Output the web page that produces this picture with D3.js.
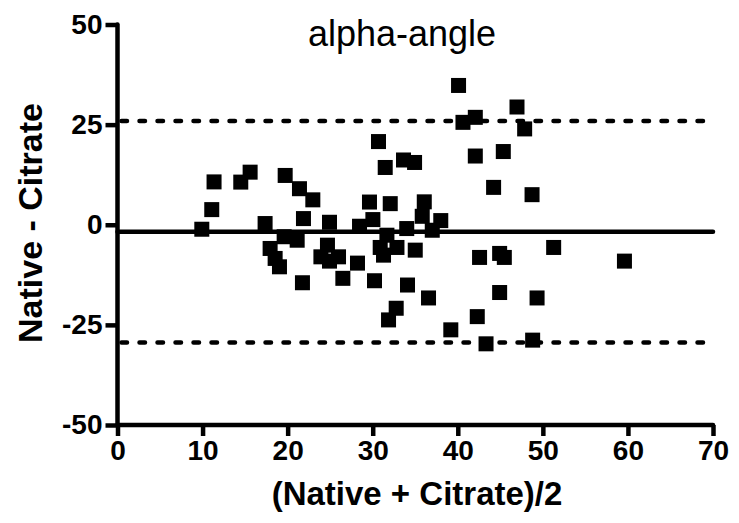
<!DOCTYPE html>
<html><head><meta charset="utf-8">
<script src="https://cdn.jsdelivr.net/npm/d3@7"></script>
<style>body{margin:0;background:#fff}svg{display:block}</style>
</head><body>
<script>
const meanX = [9.91,11.08,11.35,14.49,15.59,17.35,19.71,21.39,22.96,21.86,19.59,21.12,17.94,18.53,19.04,21.74,23.91,24.68,25.98,24.92,24.92,28.45,30.02,29.62,32.06,28.21,26.49,30.21,31.67,30.88,32.85,31.27,35.0,34.0,37.0,35.82,36.06,38.0,30.68,31.47,33.62,34.92,34.09,36.56,32.76,31.86,39.18,40.09,42.06,40.61,42.06,44.21,42.56,42.29,43.32,46.96,47.86,45.35,48.73,44.92,45.47,51.27,44.92,49.32,48.80,59.59];
const diffY = [-1.12,3.78,10.70,10.65,13.13,0.30,12.31,9.00,6.22,1.54,-2.99,-3.86,-5.92,-8.41,-10.50,-14.48,-8.01,-5.10,-8.01,-9.08,0.62,-0.37,1.29,5.67,5.27,-9.58,-13.38,-13.98,-2.61,-5.67,-5.67,-7.59,-6.34,-0.95,-1.37,2.11,5.72,1.04,20.77,14.30,16.17,15.55,-15.05,-18.28,-20.85,-23.76,-26.24,34.78,26.82,25.57,17.16,9.33,-8.16,-22.94,-29.73,29.40,23.93,18.28,7.51,-7.16,-8.16,-5.67,-16.92,-18.28,-28.81,-9.08];
const bias = -1.75;
const loaUpper = 25.9;
const loaLower = -29.4;
const xTicks = [0,10,20,30,40,50,60,70];
const yTicks = [-50,-25,0,25,50];
const title = "alpha-angle";
const xLabel = "(Native + Citrate)/2";
const yLabel = "Native - Citrate";

const W = 739, H = 523;
const svg = d3.select("body").append("svg").attr("width", W).attr("height", H);
const x = d3.scaleLinear().domain([0,70]).range([117.5, 713]);
const y = d3.scaleLinear().domain([-50,50]).range([425, 24.5]);
const font = "Arial, 'Liberation Sans', sans-serif";

// reference lines
const g = svg.append("g");
g.append("line").attr("x1", x(0)).attr("x2", x(70)).attr("y1", y(bias)).attr("y2", y(bias))
  .attr("stroke", "#000").attr("stroke-width", 4.5).attr("stroke-linecap", "round");
[loaUpper, loaLower].forEach(v => {
  g.append("line").attr("x1", x(0) + 4).attr("x2", x(70)).attr("y1", y(v)).attr("y2", y(v))
    .attr("stroke", "#000").attr("stroke-width", 4.5).attr("stroke-linecap", "round")
    .attr("stroke-dasharray", "5.5,12.5");
});

// points
const s = 15;
svg.append("g").selectAll("rect").data(meanX.map((d,i)=>[d, diffY[i]])).join("rect")
  .attr("x", d => x(d[0]) - s/2).attr("y", d => y(d[1]) - s/2)
  .attr("width", s).attr("height", s).attr("fill", "#000");

// axes
const fmt = d => String(d);
const ax = svg.append("g").attr("transform", `translate(0,${y(-50)})`)
  .call(d3.axisBottom(x).tickValues(xTicks).tickFormat(fmt).tickSize(11).tickPadding(4));
const ay = svg.append("g").attr("transform", `translate(${x(0)},0)`)
  .call(d3.axisLeft(y).tickValues(yTicks).tickFormat(fmt).tickSize(12).tickPadding(3));
[ax, ay].forEach(a => {
  a.select(".domain").attr("stroke-width", 4.5).attr("stroke-linecap", "round");
  a.selectAll(".tick line").attr("stroke-width", 4.5);
  a.selectAll("text").attr("font-family", font).attr("font-weight", "bold")
    .attr("font-size", 28).attr("fill", "#000");
});
ax.select(".domain").attr("d", `M${x(0)},0H${x(70)}`);
ay.select(".domain").attr("d", `M0,${y(50)}V${y(-50)}`);

// title and labels
svg.append("text").attr("x", 402).attr("y", 46).attr("text-anchor", "middle")
  .attr("font-family", font).attr("font-size", 36).text(title);
svg.append("text").attr("x", 417).attr("y", 505).attr("text-anchor", "middle")
  .attr("font-family", font).attr("font-weight", "bold").attr("font-size", 33).text(xLabel);
svg.append("text").attr("transform", "translate(42,223) rotate(-90)").attr("text-anchor", "middle")
  .attr("font-family", font).attr("font-weight", "bold").attr("font-size", 34).text(yLabel);
</script>
</body></html>
